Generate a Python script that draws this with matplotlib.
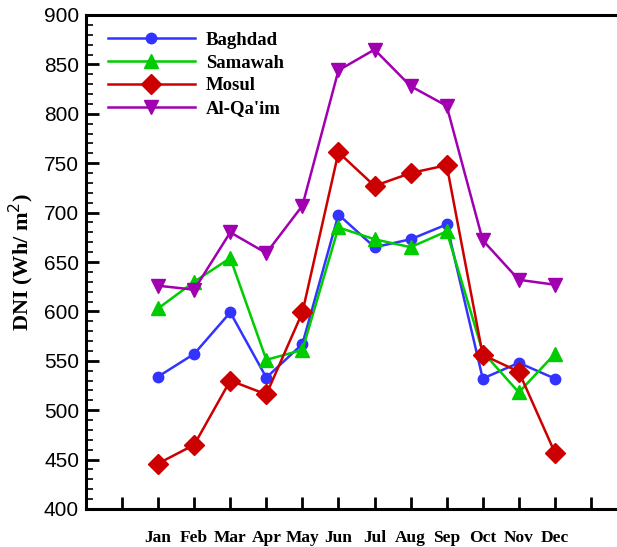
import matplotlib
matplotlib.use("Agg")
import matplotlib.pyplot as plt
from matplotlib.ticker import MultipleLocator, FixedLocator

months = ["Jan", "Feb", "Mar", "Apr", "May", "Jun", "Jul", "Aug", "Sep", "Oct", "Nov", "Dec"]
baghdad = [534, 557, 599, 533, 567, 698, 665, 673, 688, 532, 548, 532]
samawah = [603, 630, 654, 551, 561, 685, 673, 665, 681, 559, 518, 557]
mosul = [446, 465, 530, 516, 599, 761, 727, 740, 748, 556, 539, 457]
alqaim = [626, 622, 680, 659, 707, 844, 865, 828, 808, 672, 632, 627]

x = list(range(1, 13))

fig = plt.figure(figsize=(6.17, 5.47), dpi=100)
ax = fig.add_axes([86/617, 38/547, (627-86)/617, (509-15)/547])

serif = "Liberation Serif"
ax.plot(x, baghdad, color="#3333ff", lw=1.8, marker="o", ms=7.5, label="Baghdad")
ax.plot(x, samawah, color="#00cc00", lw=1.8, marker="^", ms=10.5, label="Samawah")
ax.plot(x, mosul, color="#cc0000", lw=1.8, marker="D", ms=10, label="Mosul")
ax.plot(x, alqaim, color="#a000b0", lw=1.8, marker="v", ms=10.5, label="Al-Qa'im")

ax.set_xlim(-1, 14)
ax.set_ylim(400, 900)
ax.xaxis.set_major_locator(FixedLocator(list(range(0, 14))))
ax.set_xticklabels([""] + months + [""])
ax.yaxis.set_major_locator(MultipleLocator(50))
ax.yaxis.set_minor_locator(MultipleLocator(10))

for s in ax.spines.values():
    s.set_linewidth(2.2)

ax.tick_params(axis="both", which="major", direction="in", length=9, width=2)
ax.tick_params(axis="y", which="minor", direction="in", length=5, width=1.2)
ax.tick_params(axis="x", pad=15)
ax.tick_params(axis="y", pad=5)

for lab in ax.get_yticklabels():
    lab.set_fontfamily("Liberation Sans")
    lab.set_fontsize(15)
for lab in ax.get_xticklabels():
    lab.set_fontfamily(serif)
    lab.set_fontweight("bold")
    lab.set_fontsize(12.5)

ax.set_ylabel("DNI (Wh/ m$^{2}$)", fontfamily=serif, fontweight="bold", fontsize=16, labelpad=6)

leg = ax.legend(loc="upper left", bbox_to_anchor=(0.01, 1.0), frameon=False,
                prop={"family": serif, "weight": "bold", "size": 13.5},
                handlelength=4.6, handletextpad=0.6, labelspacing=0.3)

fig.savefig("out.png", dpi=100)
